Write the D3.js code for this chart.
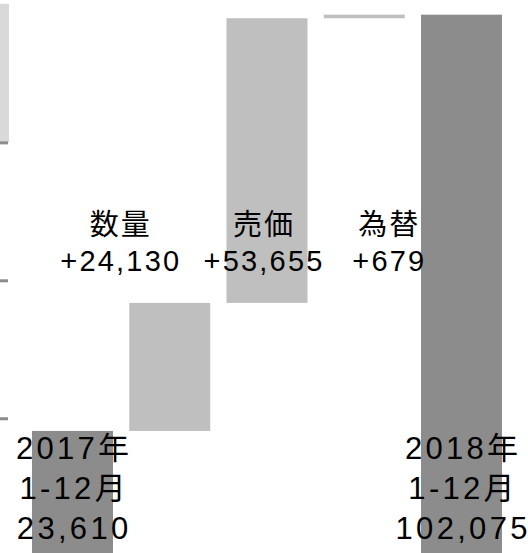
<!DOCTYPE html>
<html>
<head>
<meta charset="utf-8">
<script src="https://cdn.jsdelivr.net/npm/d3@7"></script>
<style>
  html, body { margin: 0; padding: 0; background: #fff; }
  svg { display: block; }
  text { font-family: "Liberation Sans", "Noto Sans CJK JP", sans-serif; fill: #000; }
</style>
</head>
<body>
<script>
// ---- data ----
const steps = ["2017", "数量", "売価", "為替", "2018"];
const stepKinds = ["total", "delta", "delta", "delta", "total"];
const stepValues = [23610, 24130, 53655, 679, 102075];
const periodLabel = "1-12月";
const tickValues = [26000, 52000, 78000];
const priorBarRange = [78000, 104100];

// ---- layout ----
const W = 528, H = 553;
const labelShift = [0, -50, -4, 24, 0];

const svg = d3.select("body").append("svg").attr("width", W).attr("height", H);

const x = d3.scaleBand().domain(steps).range([32, 502]).paddingInner(0.167).paddingOuter(0);
const y = d3.scaleLinear().domain([0, 104100]).range([556.2, 3.9]);

// waterfall geometry
let run = 0;
const bars = steps.map((s, i) => {
  let lo, hi;
  if (stepKinds[i] === "total") { lo = 0; hi = stepValues[i]; run = stepValues[i]; }
  else { lo = run; hi = run + stepValues[i]; run = hi; }
  return { step: s, kind: stepKinds[i], value: stepValues[i], lo, hi, i };
});

// prior (clipped) bar at left edge
svg.append("rect")
  .attr("x", -100)
  .attr("width", x(steps[0]) - 23 + 100)
  .attr("y", y(priorBarRange[1]))
  .attr("height", y(priorBarRange[0]) - y(priorBarRange[1]))
  .attr("fill", "#d9d9d9");

// axis tick marks only
const axis = d3.axisLeft(y).tickValues(tickValues).tickSize(8).tickFormat("");
const ag = svg.append("g").attr("transform", "translate(8,0)").call(axis);
ag.select(".domain").remove();
ag.selectAll(".tick line").attr("stroke", "#8c8c8c").attr("stroke-width", 3);

// bars
svg.selectAll("rect.bar").data(bars).enter().append("rect")
  .attr("class", "bar")
  .attr("x", d => x(d.step))
  .attr("width", x.bandwidth())
  .attr("y", d => y(d.hi))
  .attr("height", d => Math.max(y(d.lo) - y(d.hi), 0))
  .attr("fill", d => d.kind === "total" ? "#8c8c8c" : "#bfbfbf");

const fmt = d3.format(",");

// spaced text line: spacing only between glyphs (no trailing gap)
function spacedLine(cx, yy, str, size, gap) {
  const t = svg.append("text")
    .attr("x", cx).attr("y", yy)
    .attr("text-anchor", "middle")
    .attr("font-size", size)
    .text(str);
  const natural = t.node().getComputedTextLength();
  const n = Array.from(str).length;
  t.attr("textLength", natural + (n - 1) * gap).attr("lengthAdjust", "spacing");
  return t;
}

// delta labels
bars.filter(d => d.kind === "delta").forEach(d => {
  const cx = x(d.step) + x.bandwidth() / 2 + labelShift[d.i];
  spacedLine(cx, 235, d.step, 29, 2.2);
  spacedLine(cx, 271, "+" + fmt(d.value), 29, 2.2);
});

// total labels
bars.filter(d => d.kind === "total").forEach(d => {
  const cx = x(d.step) + x.bandwidth() / 2;
  [d.step + "年", periodLabel, fmt(d.value)].forEach((line, k) => {
    spacedLine(cx, 458.5 + k * 40.3, line, 31, 3.3);
  });
});
</script>
</body>
</html>
